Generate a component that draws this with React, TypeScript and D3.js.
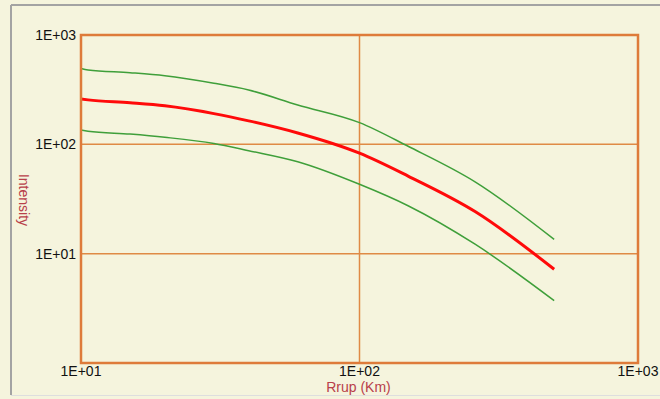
import React from 'react';
import * as d3 from 'd3';

// distance (km) and intensity curves
const rrup = [10, 10.6, 15, 20, 30, 40, 60, 100, 150, 260, 500];
const median = [260, 255, 240, 225, 191, 164, 127, 83, 51, 24.3, 7.2];
const upper = [494, 479, 452, 424, 362, 314, 229, 158, 95.5, 45.4, 13.5];
const lower = [135, 132, 124, 116, 102, 87.5, 69.3, 43.1, 27.3, 12.2, 3.72];

const xTicks = [10, 100, 1000];
const yTicks = [10, 100, 1000];
const tickLabel = (v: number) => '1E+0' + Math.round(Math.log10(v));

const W = 660;
const H = 399;
const plot = { left: 81, right: 638, top: 35, bottom: 363 };
const font = '"Liberation Sans", Arial, sans-serif';

const App = () => {
  const x = d3.scaleLog().domain([10, 1000]).range([plot.left, plot.right]);
  const y = d3.scaleLog().domain([1, 1000]).range([plot.bottom, plot.top]);

  const line = d3.line<[number, number]>()
    .x(d => x(d[0]))
    .y(d => y(d[1]))
    .curve(d3.curveMonotoneX);

  const series = [
    { values: upper, color: '#3f9f3a', width: 1.5 },
    { values: lower, color: '#3f9f3a', width: 1.5 },
    { values: median, color: '#ff0a0a', width: 3 },
  ];

  return (
    <div style={{ position: 'fixed', left: 0, top: 0 }}>
      <svg width={W} height={H} style={{ display: 'block' }} fontFamily={font}>
        <rect x={0} y={0} width={W} height={H} fill="#f5f4dd" />
        {/* panel frame */}
        <line x1={11} y1={5} x2={W} y2={5} stroke="#a3a3a3" strokeWidth={2} />
        <line x1={11} y1={5} x2={11} y2={395} stroke="#a3a3a3" strokeWidth={2} />
        <line x1={11} y1={395.5} x2={W} y2={395.5} stroke="#dedede" strokeWidth={1} />

        {/* grid */}
        {[10, 100].map(v => (
          <line key={'gy' + v} x1={plot.left} x2={plot.right} y1={y(v)} y2={y(v)}
            stroke="#df8a45" strokeWidth={1.5} />
        ))}
        <line x1={x(100)} x2={x(100)} y1={plot.top} y2={plot.bottom} stroke="#df8a45" strokeWidth={1.5} />

        {series.map((s, i) => (
          <path key={i}
            d={line(rrup.map((r, j) => [r, s.values[j]] as [number, number])) || ''}
            fill="none" stroke={s.color} strokeWidth={s.width} strokeLinejoin="round" />
        ))}

        <rect x={plot.left} y={plot.top} width={plot.right - plot.left} height={plot.bottom - plot.top}
          fill="none" stroke="#de7b3a" strokeWidth={2.5} />

        {yTicks.map(v => (
          <text key={'ty' + v} x={plot.left - 5} y={y(v) + 5} textAnchor="end" fontSize={14} fill="#111">
            {tickLabel(v)}
          </text>
        ))}
        {xTicks.map(v => (
          <text key={'tx' + v} x={x(v)} y={376} textAnchor="middle" fontSize={14} fill="#111">
            {tickLabel(v)}
          </text>
        ))}

        <text x={358.5} y={392} textAnchor="middle" fontSize={14} fill="#b8404a">Rrup (Km)</text>
        <text transform="translate(19,200) rotate(90)" textAnchor="middle" fontSize={14} fill="#b8404a">
          Intensity
        </text>
      </svg>
    </div>
  );
};

export default App;
